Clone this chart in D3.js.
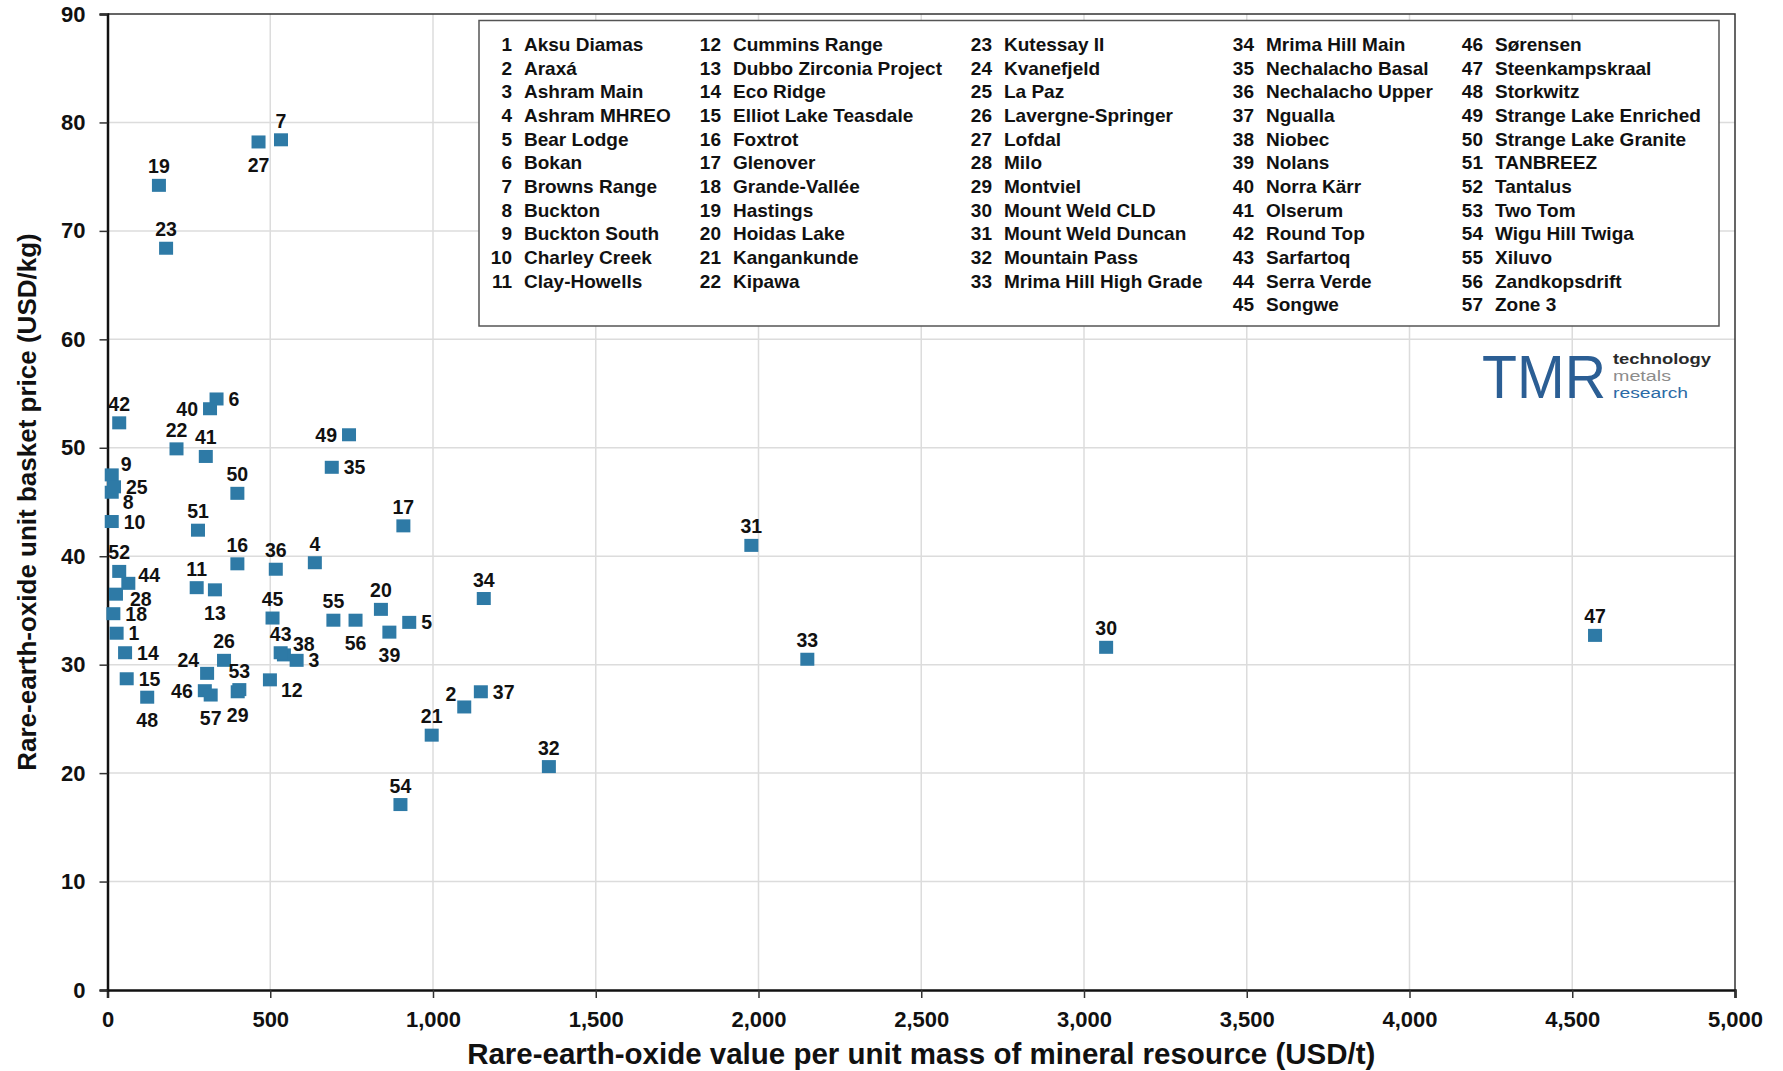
<!DOCTYPE html>
<html>
<head>
<meta charset="utf-8">
<script src="https://cdn.jsdelivr.net/npm/d3@7/dist/d3.min.js"></script>
<style>
  html, body { margin: 0; padding: 0; background: #fff; }
  svg { display: block; font-family: "Liberation Sans", Arial, Helvetica, sans-serif; }
</style>
</head>
<body>
<svg id="chart" width="1783" height="1071"></svg>
<script>
// ---------- DATA ----------
const ids = d3.range(1, 58);
const names = [
  "Aksu Diamas","Araxá","Ashram Main","Ashram MHREO","Bear Lodge","Bokan","Browns Range","Buckton",
  "Buckton South","Charley Creek","Clay-Howells","Cummins Range","Dubbo Zirconia Project","Eco Ridge",
  "Elliot Lake Teasdale","Foxtrot","Glenover","Grande-Vallée","Hastings","Hoidas Lake","Kangankunde",
  "Kipawa","Kutessay II","Kvanefjeld","La Paz","Lavergne-Springer","Lofdal","Milo","Montviel",
  "Mount Weld CLD","Mount Weld Duncan","Mountain Pass","Mrima Hill High Grade","Mrima Hill Main",
  "Nechalacho Basal","Nechalacho Upper","Ngualla","Niobec","Nolans","Norra Kärr","Olserum","Round Top",
  "Sarfartoq","Serra Verde","Songwe","Sørensen","Steenkampskraal","Storkwitz","Strange Lake Enriched",
  "Strange Lake Granite","TANBREEZ","Tantalus","Two Tom","Wigu Hill Twiga","Xiluvo","Zandkopsdrift","Zone 3"
];
// Rare-earth-oxide value per unit mass of mineral resource (USD/t)
const xValues = [
  28, 1096, 581, 637, 927, 335, 533, 13, 13, 13,
  274, 499, 330, 54, 59, 399, 909, 18, 158, 840,
  996, 212, 180, 306, 20, 358, 464, 26, 400, 3068,
  1978, 1356, 2150, 1156, 689, 517, 1147, 542, 866, 315,
  302, 36, 532, 64, 507, 299, 4570, 122, 742, 399,
  278, 36, 405, 900, 694, 762, 317
];
// Rare-earth-oxide unit basket price (USD/kg)
const yValues = [
  32.9, 26.1, 30.4, 39.4, 33.9, 54.5, 78.4, 45.9, 47.5, 43.2,
  37.1, 28.6, 36.9, 31.1, 28.7, 39.3, 42.8, 34.7, 74.2, 35.1,
  23.5, 49.9, 68.4, 29.2, 46.4, 30.4, 78.2, 36.5, 27.5, 31.6,
  41.0, 20.6, 30.5, 36.1, 48.2, 38.8, 27.5, 30.9, 33.0, 53.6,
  49.2, 52.3, 31.1, 37.5, 34.3, 27.6, 32.7, 27.0, 51.2, 45.8,
  42.4, 38.6, 27.7, 17.1, 34.1, 34.1, 27.2
];
// label side for each point's number
const labelSide = [
  "R","TL","R","T","R","R","T","BR","TR","R",
  "T","BR","B","R","R","T","T","R","T","T",
  "T","T","T","TL","R","T","B","RD","B","T",
  "T","T","T","T","R","T","R","TR","B","L",
  "T","T","T","RU","T","L","T","B","L","T",
  "T","T","T","T","T","B","B"
];
const legendColumns = [[1, 11], [12, 22], [23, 33], [34, 45], [46, 57]];
const xTicks = [0, 500, 1000, 1500, 2000, 2500, 3000, 3500, 4000, 4500, 5000];
const yTicks = [0, 10, 20, 30, 40, 50, 60, 70, 80, 90];
const xTitle = "Rare-earth-oxide value per unit mass of mineral resource (USD/t)";
const yTitle = "Rare-earth-oxide unit basket price (USD/kg)";

// ---------- CHART ----------
const svg = d3.select("#chart");
const x = d3.scaleLinear().domain([0, 5000]).range([107.5, 1735]);
const y = d3.scaleLinear().domain([0, 90]).range([990, 14]);

// gridlines
const grid = svg.append("g");
grid.selectAll("line.v").data(xTicks.filter(t => t > 0 && t < 5000)).join("line")
  .attr("x1", d => x(d)).attr("x2", d => x(d)).attr("y1", y(0)).attr("y2", y(90))
  .attr("stroke", "#dcdcdc").attr("stroke-width", 1.5);
grid.selectAll("line.h").data(yTicks.filter(t => t > 0 && t < 90)).join("line")
  .attr("x1", x(0)).attr("x2", x(5000)).attr("y1", d => y(d)).attr("y2", d => y(d))
  .attr("stroke", "#dcdcdc").attr("stroke-width", 1.5);

// top and right frame
svg.append("path")
  .attr("d", `M${x(0)},${y(90)}H${x(5000)}V${y(0)}`)
  .attr("fill", "none").attr("stroke", "#333").attr("stroke-width", 1.5);

// axes
const xAxis = svg.append("g").attr("transform", `translate(0,${y(0)})`)
  .call(d3.axisBottom(x).tickValues(xTicks).tickFormat(d3.format(",")).tickSize(8).tickPadding(13));
const yAxis = svg.append("g").attr("transform", `translate(${x(0)},0)`)
  .call(d3.axisLeft(y).tickValues(yTicks).tickFormat(d => d).tickSize(8).tickPadding(14));
[xAxis, yAxis].forEach(a => {
  a.select(".domain").attr("stroke", "#111").attr("stroke-width", 2.5);
  a.selectAll(".tick line").attr("stroke", "#333").attr("stroke-width", 1.5);
  a.selectAll(".tick text").attr("fill", "#111").attr("font-size", 22).attr("font-weight", "bold");
});

// axis titles
svg.append("text")
  .attr("x", (x(0) + x(5000)) / 2 - 0).attr("y", 1064)
  .attr("text-anchor", "middle").attr("font-size", 29.5).attr("font-weight", "bold").attr("fill", "#111")
  .text(xTitle);
svg.append("text")
  .attr("transform", `translate(36,${(y(0) + y(90)) / 2}) rotate(-90)`)
  .attr("text-anchor", "middle").attr("font-size", 26).attr("font-weight", "bold").attr("fill", "#111")
  .text(yTitle);

// legend box
const lg = svg.append("g");
lg.append("rect").attr("x", 479).attr("y", 20.5).attr("width", 1240).attr("height", 305.5)
  .attr("fill", "#fff").attr("stroke", "#555").attr("stroke-width", 1.5);
const colNameX = [524, 733, 1004, 1266, 1495];
legendColumns.forEach((c, ci) => {
  const items = ids.filter(i => i >= c[0] && i <= c[1]);
  const g = lg.append("g");
  items.forEach((id, ri) => {
    const by = 51 + ri * 23.65;
    g.append("text").attr("x", colNameX[ci] - 12).attr("y", by).attr("text-anchor", "end")
      .attr("font-size", 19).attr("font-weight", "bold").attr("fill", "#111").text(id);
    g.append("text").attr("x", colNameX[ci]).attr("y", by)
      .attr("font-size", 19).attr("font-weight", "bold").attr("fill", "#111").text(names[id - 1]);
  });
});

// logo
const logo = svg.append("g");
logo.append("text").attr("x", 1482).attr("y", 398).attr("font-size", 62).attr("fill", "#2b5e94")
  .attr("textLength", 124).attr("lengthAdjust", "spacingAndGlyphs").text("TMR");
logo.append("text").attr("x", 1613).attr("y", 364).attr("font-size", 15.5).attr("font-weight", "bold").attr("fill", "#2a2a2a")
  .attr("textLength", 98).attr("lengthAdjust", "spacingAndGlyphs").text("technology");
logo.append("text").attr("x", 1613).attr("y", 381).attr("font-size", 15.5).attr("fill", "#8c8c8c")
  .attr("textLength", 58).attr("lengthAdjust", "spacingAndGlyphs").text("metals");
logo.append("text").attr("x", 1613).attr("y", 398).attr("font-size", 15.5).attr("fill", "#2b6aa6")
  .attr("textLength", 75).attr("lengthAdjust", "spacingAndGlyphs").text("research");

// points
const pts = ids.map((id, i) => ({ id, x: xValues[i], y: yValues[i], side: labelSide[i] }));
const off = {
  T:  { dx: 0,   dy: -19, a: "middle" },
  B:  { dx: 0,   dy: 23,  a: "middle" },
  R:  { dx: 12,  dy: 0,   a: "start" },
  RU: { dx: 10,  dy: -8,  a: "start" },
  RD: { dx: 14,  dy: 5,   a: "start" },
  L:  { dx: -12, dy: 0,   a: "end" },
  TL: { dx: -8,  dy: -13, a: "end" },
  TR: { dx: 9,   dy: -11, a: "start" },
  BR: { dx: 11,  dy: 10,  a: "start" }
};
svg.append("g").selectAll("rect").data(pts).join("rect")
  .attr("x", d => x(d.x) - 7).attr("y", d => y(d.y) - 6.5)
  .attr("width", 14).attr("height", 13).attr("fill", "#2e7aa6");
svg.append("g").selectAll("text").data(pts).join("text")
  .attr("x", d => x(d.x) + off[d.side].dx)
  .attr("y", d => y(d.y) + off[d.side].dy)
  .attr("dy", "0.36em")
  .attr("text-anchor", d => off[d.side].a)
  .attr("font-size", 19.5).attr("font-weight", "bold").attr("fill", "#111")
  .text(d => d.id);
</script>
</body>
</html>
